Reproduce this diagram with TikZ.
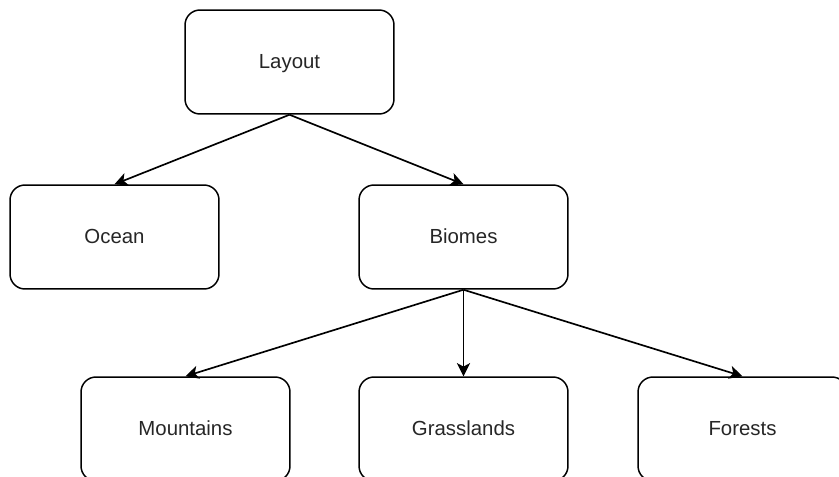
\documentclass[tikz,border=0pt]{standalone}
\usepackage{fontspec}
\setmainfont{Liberation Sans}
\usetikzlibrary{arrows.meta}
\tikzset{
  biobox/.style={draw, line width=0.85pt, rounded corners=0.3cm, fill=white,
    minimum width=4.18cm, minimum height=2.08cm, inner sep=0pt,
    text height=0.72em, text depth=0em,
    font=\fontsize{11.6}{14}\selectfont, text=black!85},
  link/.style={line width=0.95pt, -{Stealth[length=7.5pt, width=7.5pt, inset=2pt]}}
}
\begin{document}
\begin{tikzpicture}[x=0.02cm, y=-0.02cm]
\useasboundingbox (0,0) rectangle (839,477);
\clip (0,0) rectangle (839,477);
% Top level
\node[biobox] (layout) at (289.5,62) {Layout};
% Second level
\node[biobox] (ocean) at (114.5,237) {Ocean};
\node[biobox] (biomes) at (463.5,237) {Biomes};
% Third level (cut by page edge)
\node[biobox] (mountains) at (185.5,429) {Mountains};
\node[biobox] (grasslands) at (463.5,429) {Grasslands};
\node[biobox] (forests) at (742.5,429) {Forests};
% Connectors
\draw[link] (layout.south) -- (ocean.north);
\draw[link] (layout.south) -- (biomes.north);
\draw[link] (biomes.south) -- (mountains.north);
\draw[link] (biomes.south) -- (grasslands.north);
\draw[link] (biomes.south) -- (forests.north);
\end{tikzpicture}
\end{document}
